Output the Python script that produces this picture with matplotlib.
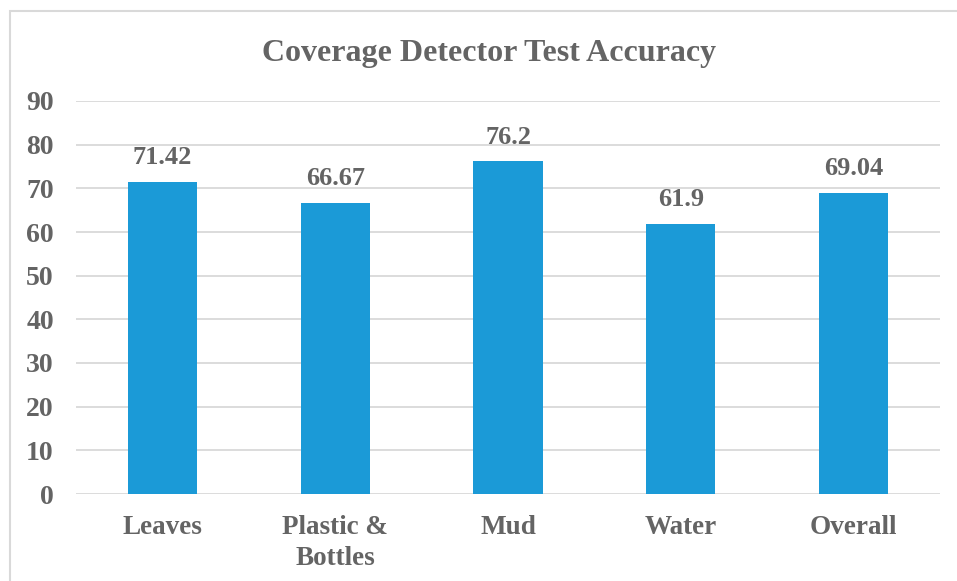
import matplotlib.pyplot as plt
from matplotlib.patches import Rectangle

categories = ["Leaves", "Plastic &\nBottles", "Mud", "Water", "Overall"]
accuracy = [71.42, 66.67, 76.2, 61.9, 69.04]
labels = ["71.42", "66.67", "76.2", "61.9", "69.04"]
yticks = [0, 10, 20, 30, 40, 50, 60, 70, 80, 90]

plt.rcParams['font.family'] = ['Liberation Serif', 'DejaVu Serif']
txt = "#646464"

fig = plt.figure(figsize=(9.57, 5.81), dpi=100)
ax = fig.add_axes([76/957, 1 - 494/581, 864/957, 393/581])

x = range(len(categories))
ax.bar(x, accuracy, width=0.4, color="#1B9AD7", zorder=3)
for i, v in enumerate(accuracy):
    ax.text(i, v + 2.9, labels[i], ha="center", va="bottom",
            fontsize=19, fontweight="bold", color=txt)

ax.set_xlim(-0.5, len(categories) - 0.5)
ax.set_ylim(0, 90)
ax.set_yticks(yticks)
ax.set_xticks(list(x))
ax.set_xticklabels(categories, fontsize=19.5, fontweight="bold", color=txt,
                   linespacing=1.3, va="top")
ax.tick_params(axis="y", labelsize=20, labelcolor=txt, length=0, pad=16)
ax.tick_params(axis="x", length=0, pad=15)
for lab in ax.get_yticklabels():
    lab.set_fontweight("bold")
ax.grid(axis="y", color="#D9D9D9", linewidth=1.3, zorder=0)
for s in ax.spines.values():
    s.set_visible(False)

fig.text(489.5/957, 1 - 53/581, "Coverage Detector Test Accuracy", ha="center",
         va="center", fontsize=23, fontweight="bold", color=txt)

fig.patches.append(Rectangle((9.5/957, -0.2), 1.2, 1.2 - 11/581, transform=fig.transFigure,
                             fill=False, edgecolor="#D9D9D9", linewidth=1.5))

fig.savefig("out.png", dpi=100)
